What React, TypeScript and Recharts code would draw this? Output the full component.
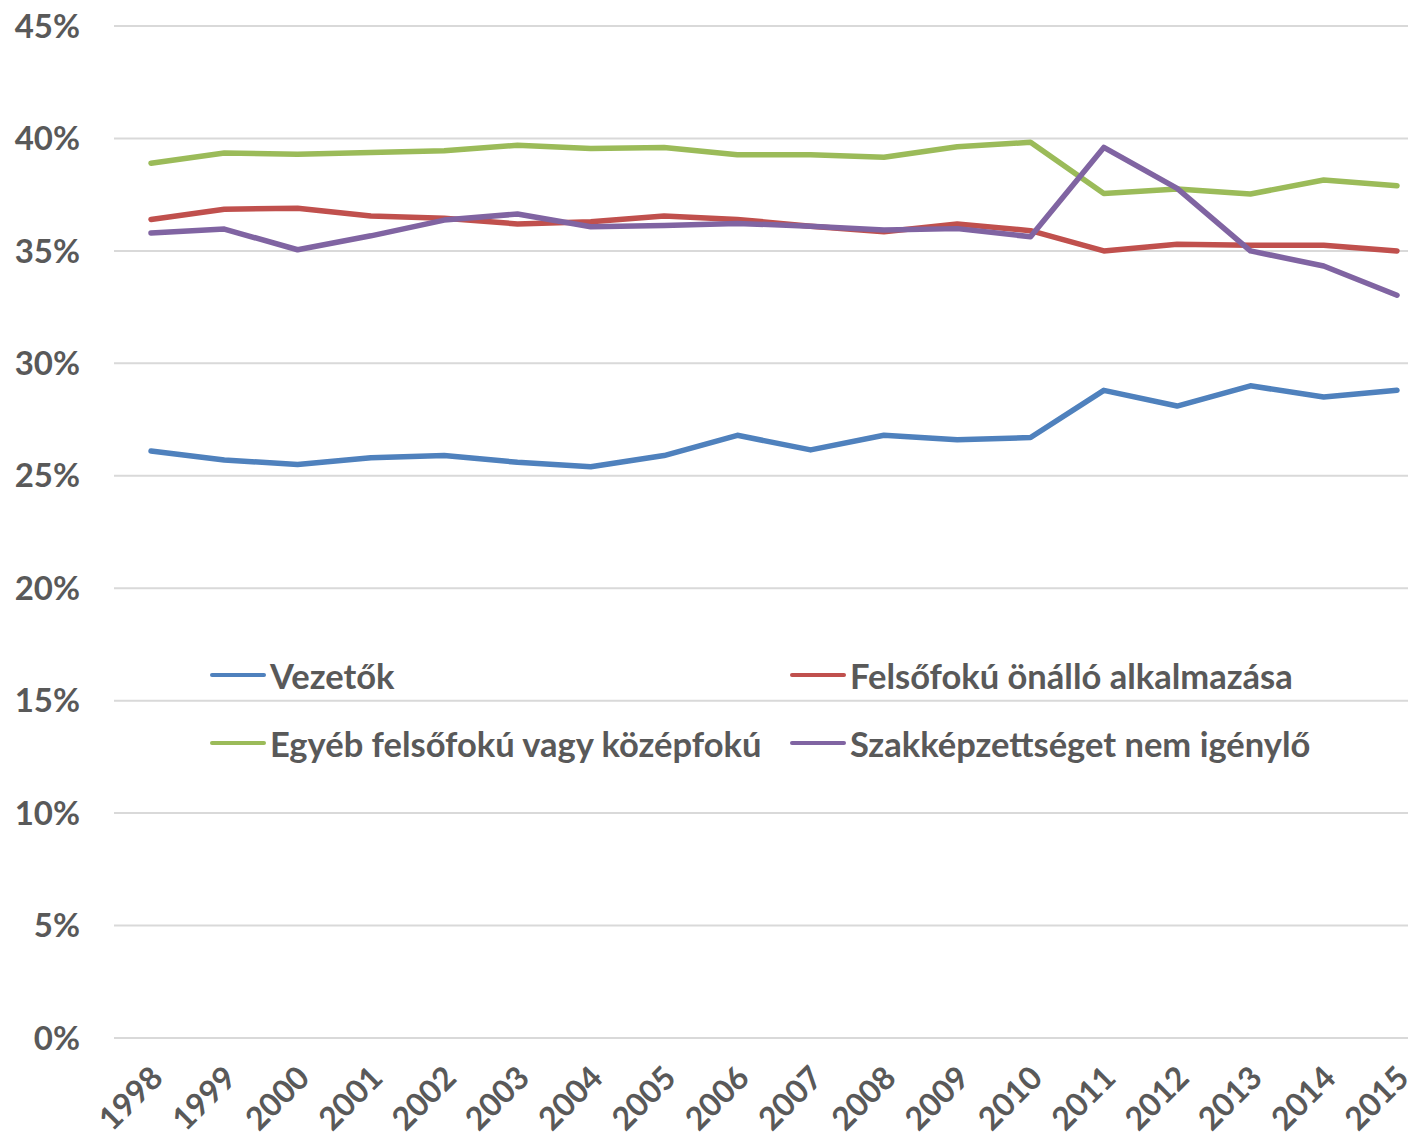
import { LineChart, Line, XAxis, YAxis, CartesianGrid } from 'recharts';

const years = ['1998', '1999', '2000', '2001', '2002', '2003', '2004', '2005', '2006', '2007', '2008', '2009', '2010', '2011', '2012', '2013', '2014', '2015'];

const vezetok = [26.1, 25.7, 25.5, 25.8, 25.9, 25.6, 25.4, 25.9, 26.8, 26.15, 26.8, 26.6, 26.7, 28.8, 28.1, 29.0, 28.5, 28.8];
const felsofoku = [36.4, 36.85, 36.9, 36.55, 36.45, 36.2, 36.3, 36.55, 36.4, 36.1, 35.85, 36.2, 35.9, 35.0, 35.3, 35.25, 35.25, 35.0];
const egyeb = [38.9, 39.35, 39.3, 39.37, 39.45, 39.7, 39.55, 39.6, 39.27, 39.28, 39.16, 39.63, 39.83, 37.55, 37.75, 37.53, 38.15, 37.9];
const szakk = [35.8, 35.97, 35.05, 35.67, 36.37, 36.64, 36.07, 36.13, 36.22, 36.1, 35.93, 35.99, 35.63, 39.6, 37.78, 35.0, 34.33, 33.03];

const yTicks = [0, 5, 10, 15, 20, 25, 30, 35, 40, 45];

const seriesNames = ['Vezetők', 'Felsőfokú önálló alkalmazása', 'Egyéb felsőfokú vagy középfokú', 'Szakképzettséget nem igénylő'];
const colors = ['#4F81BD', '#C0504D', '#9BBB59', '#8064A2'];

const data = years.map((year, i) => ({
  year,
  s0: vezetok[i],
  s1: felsofoku[i],
  s2: egyeb[i],
  s3: szakk[i],
}));

const FONT = 'Lato, "Open Sans", sans-serif';
const TEXT = '#595959';

function YearTick(props: any) {
  const { x, y, payload } = props;
  return (
    <g transform={`translate(${x + 5},${y + 25})`}>
      <text
        x={0}
        y={0}
        textAnchor="end"
        dominantBaseline="central"
        transform="rotate(-45)"
        fill={TEXT}
        fontFamily={FONT}
        fontWeight={700}
        fontSize={32}
      >
        {payload.value}
      </text>
    </g>
  );
}

// legend sits over the plot, 2 columns
function ChartLegend() {
  return (
    <div
      style={{
        position: 'absolute',
        top: 656,
        left: 210,
        display: 'grid',
        gridTemplateColumns: '580px 580px',
        rowGap: 30,
      }}
    >
      {seriesNames.map((name, i) => (
        <div key={name} style={{ display: 'flex', alignItems: 'center', height: 38 }}>
          <span style={{ display: 'inline-block', width: 56, height: 4, borderRadius: 2, background: colors[i], marginRight: 4 }} />
          <span style={{ fontFamily: FONT, fontWeight: 700, fontSize: 34.5, color: TEXT, whiteSpace: 'nowrap' }}>{name}</span>
        </div>
      ))}
    </div>
  );
}

export default function App() {
  return (
    <div style={{ margin: -8, width: 1416, height: 1141, overflow: 'hidden', background: '#fff', position: 'relative' }}>
      <LineChart width={1440} height={1141} data={data} margin={{ top: 26, right: 6, bottom: 0, left: 0 }}>
        <CartesianGrid horizontal vertical={false} stroke="#D9D9D9" strokeWidth={2} />
        <XAxis
          dataKey="year"
          interval={0}
          height={103}
          axisLine={false}
          tickLine={false}
          padding={{ left: 37, right: 37 }}
          tick={<YearTick />}
        />
        <YAxis
          width={114}
          domain={[0, 45]}
          ticks={yTicks}
          axisLine={false}
          tickLine={false}
          tickSize={0}
          tickMargin={34}
          tickFormatter={(v: number) => `${v}%`}
          tick={{ fill: TEXT, fontFamily: FONT, fontWeight: 700, fontSize: 33 }}
        />
        {seriesNames.map((name, i) => (
          <Line
            key={name}
            type="linear"
            dataKey={`s${i}`}
            name={name}
            stroke={colors[i]}
            strokeWidth={5.5}
            strokeLinecap="round"
            strokeLinejoin="round"
            dot={false}
            activeDot={false}
            isAnimationActive={false}
          />
        ))}
      </LineChart>
      <ChartLegend />
    </div>
  );
}
